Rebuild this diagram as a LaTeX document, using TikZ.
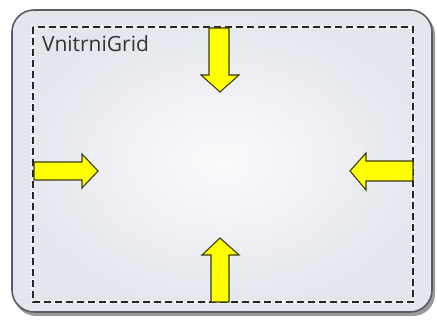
\documentclass[tikz,border=0pt]{standalone}
\usepackage{fontspec}
\setmainfont{Open Sans}
\definecolor{boxedge}{HTML}{5A5C62}
\definecolor{boxfill}{HTML}{E3E6ED}
\definecolor{boxcenter}{HTML}{FBFBFD}
\definecolor{arrowfill}{HTML}{FFFF00}
\definecolor{arrowedge}{HTML}{3A3A10}
\tikzset{
  yarrow/.style={fill=arrowfill, draw=arrowedge, line width=1.1pt, line join=miter},
  innerdash/.style={draw=black!85, line width=1.4pt, dash pattern=on 7pt off 4pt},
}
\begin{document}
\begin{tikzpicture}[x=1pt,y=-1pt]
\useasboundingbox (0,0) rectangle (437,320);
% shadow
\fill[black!40, rounded corners=22pt] (14,13) rectangle (435,316);
% outer box
\shade[inner color=boxcenter, outer color=boxfill, rounded corners=22pt] (12,10) rectangle (432,312);
\draw[boxedge, line width=1.6pt, rounded corners=22pt] (12,10) rectangle (432,312);
% inner dashed grid
\draw[white, line width=3.5pt, dash pattern=on 2pt off 2pt, opacity=0.8] (33,27) rectangle (413,302);
\draw[innerdash] (33,27) rectangle (413,302);
% label
\node[anchor=north west, inner sep=0pt, font=\fontsize{21}{24}\selectfont, text=black!80] (lbl) at (42,35) {VnitrniGrid};
% top arrow (down)
\draw[yarrow] (209,28) -- (229,28) -- (229,75) -- (239,75) -- (220,92) -- (201,75) -- (209,75) -- cycle;
% bottom arrow (up)
\draw[yarrow] (211,302) -- (229,302) -- (229,255) -- (239,255) -- (220,238) -- (202,255) -- (211,255) -- cycle;
% left arrow (pointing right)
\draw[yarrow] (34,162) -- (82,162) -- (82,154) -- (98,171) -- (82,188) -- (82,180) -- (34,180) -- cycle;
% right arrow (pointing left)
\draw[yarrow] (413,161) -- (366,161) -- (366,153) -- (350,171) -- (366,190) -- (366,181) -- (413,181) -- cycle;
\end{tikzpicture}
\end{document}
